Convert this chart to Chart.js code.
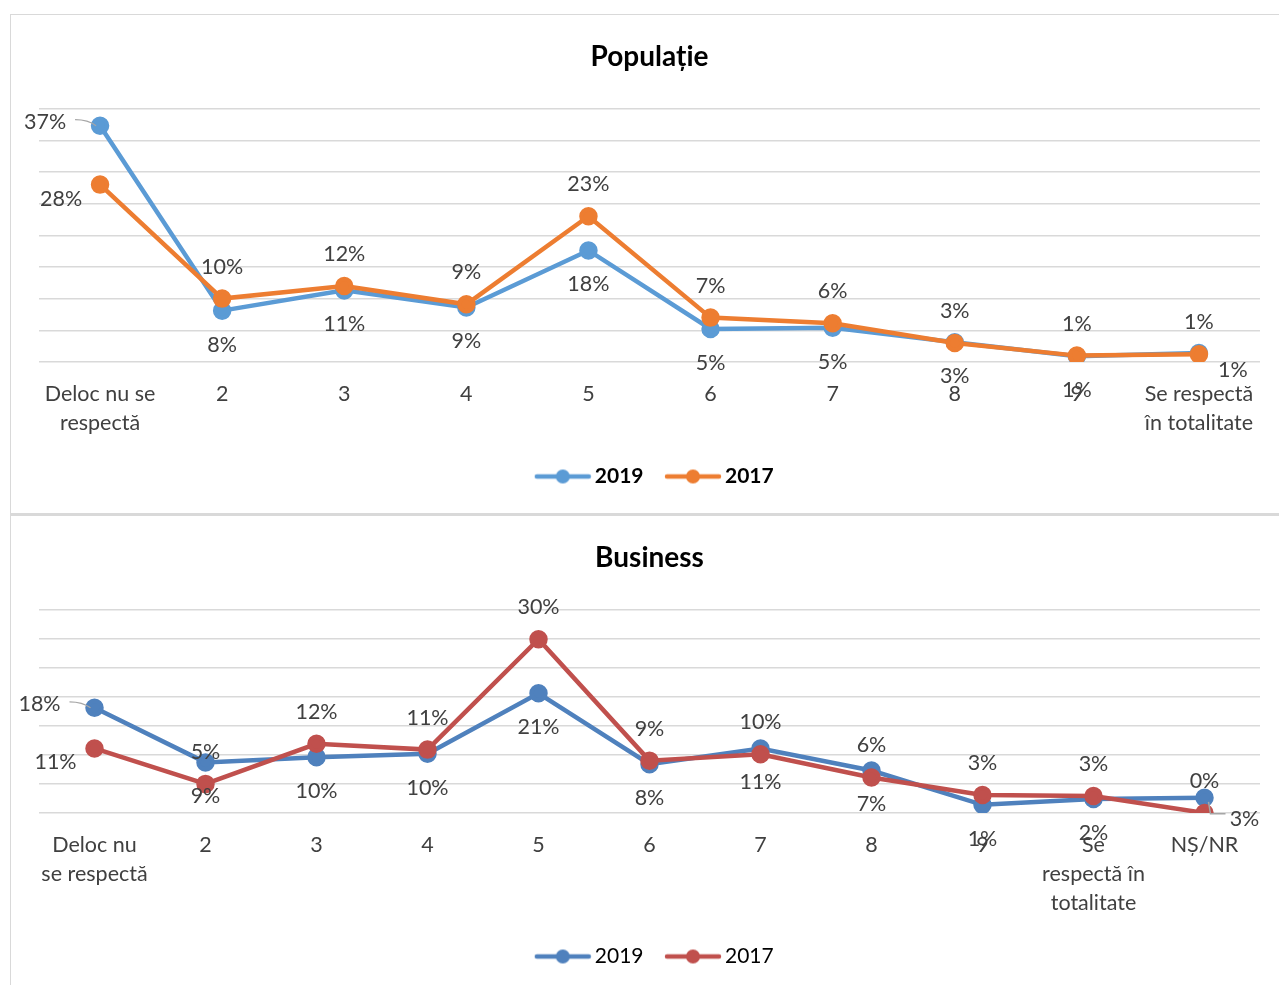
<!DOCTYPE html>
<html>
<head>
<meta charset="utf-8">
<script src="https://cdn.jsdelivr.net/npm/chart.js@4"></script>
<style>
  body { margin: 0; background: #fff; overflow: hidden; }
  .box { position: absolute; left: 10px; width: 1290px; background: #fff; border: 1px solid #d9d9d9; border-right: none; }
  #box-pop { top: 14px; height: 498px; border-bottom: 2px solid #d9d9d9; }
  #box-bus { top: 514px; height: 490px; border-top: 2px solid #d9d9d9; }
  canvas { display: block; }
</style>
</head>
<body>
<div class="box" id="box-pop"><canvas id="chart-pop" width="1269" height="498"></canvas></div>
<div class="box" id="box-bus"><canvas id="chart-bus" width="1269" height="477"></canvas></div>
<script>
// Populatie
const popCategories = [["Deloc nu se", "respectă"], "2", "3", "4", "5", "6", "7", "8", "9", ["Se respectă", "în totalitate"]];
const pop2019 = [37.3, 8.1, 11.3, 8.6, 17.6, 5.2, 5.4, 3.1, 0.9, 1.4];
const pop2017 = [28.0, 10.0, 12.0, 9.1, 23.0, 7.0, 6.1, 3.0, 1.0, 1.2];

// Business
const busCategories = [["Deloc nu", "se respectă"], "2", "3", "4", "5", "6", "7", "8", "9", ["Se", "respectă în", "totalitate"], "NȘ/NR"];
const bus2019 = [18.1, 8.7, 9.6, 10.2, 20.6, 8.4, 11.1, 7.3, 1.4, 2.4, 2.6];
const bus2017 = [11.1, 5.0, 11.9, 10.9, 29.9, 9.0, 10.1, 6.1, 3.1, 2.9, 0.0];

const FONT = "Lato";

function legendIcon(color) {
  const c = document.createElement("canvas");
  c.width = 58;
  c.height = 16;
  const g = c.getContext("2d");
  g.strokeStyle = color;
  g.lineWidth = 4.5;
  g.lineCap = "round";
  g.beginPath();
  g.moveTo(3, 8);
  g.lineTo(55, 8);
  g.stroke();
  g.fillStyle = color;
  g.beginPath();
  g.arc(29, 8, 7, 0, Math.PI * 2);
  g.fill();
  return c;
}

// value labels, 2019 below the points and 2017 above, like the original
const pctLabels = {
  id: "pctLabels",
  afterLayout(chart) {
    // legend sits a bit right of centre in the original
    chart.legend.left += 8;
    chart.legend.right += 8;
  },
  afterDatasetsDraw(chart, args, opts) {
    const ctx = chart.ctx;
    ctx.save();
    ctx.font = "21.5px " + FONT;
    ctx.fillStyle = "#404040";
    ctx.textAlign = "center";
    ctx.textBaseline = "middle";
    chart.data.datasets.forEach((ds, di) => {
      const meta = chart.getDatasetMeta(di);
      const last = meta.data.length - 1;
      meta.data.forEach((pt, i) => {
        const txt = Math.round(ds.data[i]) + "%";
        let x = pt.x, y = pt.y;
        const below = ds.labelSide === "below";
        if (i === 0) {
          if (below) {
            x -= 55; y -= 4;
            ctx.strokeStyle = "#a6a6a6";
            ctx.lineWidth = 1.2;
            ctx.beginPath();
            ctx.moveTo(x + 30, y - 2);
            ctx.quadraticCurveTo(pt.x - 12, y - 2, pt.x - 4, pt.y);
            ctx.stroke();
          } else {
            x -= 39; y += 14;
          }
        } else if (i === last && below) {
          x += opts.lastDx; y += opts.lastDy;
          if (opts.lastLeader) {
            ctx.strokeStyle = "#a6a6a6";
            ctx.lineWidth = 1.5;
            ctx.beginPath();
            ctx.moveTo(pt.x + 4, pt.y + 4);
            ctx.lineTo(pt.x + 6, pt.y + 16);
            ctx.lineTo(x - 19, pt.y + 16);
            ctx.stroke();
          }
        } else {
          y += below ? 34 : -32;
        }
        ctx.fillText(txt, x, y);
      });
    });
    ctx.restore();
  }
};

function makeChart(id, title, cats, d2019, d2017, c2019, c2017, yMax, legendBold, lastDx, lastDy, lastLeader) {
  return new Chart(document.getElementById(id), {
    type: "line",
    data: {
      labels: cats,
      datasets: [
        {
          label: "2019",
          data: d2019,
          labelSide: "below",
          order: 1,
          borderColor: c2019,
          backgroundColor: c2019,
          pointBackgroundColor: c2019,
          pointBorderColor: c2019,
          borderWidth: 4.5,
          pointRadius: 7,
          pointHoverRadius: 7,
          tension: 0,
        },
        {
          label: "2017",
          data: d2017,
          labelSide: "above",
          order: 0,
          borderColor: c2017,
          backgroundColor: c2017,
          pointBackgroundColor: c2017,
          pointBorderColor: c2017,
          borderWidth: 4.5,
          pointRadius: 7,
          pointHoverRadius: 7,
          tension: 0,
        },
      ],
    },
    options: {
      responsive: false,
      animation: false,
      layout: { padding: { left: 28, right: 20, top: 0, bottom: 16 } },
      scales: {
        x: {
          offset: true,
          grid: { display: false, drawTicks: false },
          border: { display: false },
          afterFit: (scale) => { scale.height -= 18; },
          ticks: {
            padding: 18,
            color: "#404040",
            maxRotation: 0,
            autoSkip: false,
            font: { family: FONT, size: 21.5, lineHeight: 1.35 },
          },
        },
        y: {
          min: 0,
          max: yMax,
          ticks: { display: false, stepSize: 5 },
          grid: { color: "#d9d9d9", lineWidth: 1.5, drawTicks: false },
          border: { display: false },
        },
      },
      plugins: {
        title: {
          display: true,
          text: title,
          color: "#000",
          font: { family: FONT, size: 28, weight: "bold", lineHeight: 1.2 },
          padding: { top: 25, bottom: 35 },
        },
        legend: {
          position: "bottom",
          labels: {
            usePointStyle: true,
            pointStyleWidth: 43,
            padding: 28,
            color: "#000",
            font: { family: FONT, size: 21, weight: legendBold ? "bold" : "normal" },
            sort: (a, b) => a.datasetIndex - b.datasetIndex,
            generateLabels: (chart) =>
              chart.data.datasets.map((ds, i) => ({
                text: ds.label,
                datasetIndex: i,
                pointStyle: legendIcon(ds.borderColor),
                fillStyle: ds.borderColor,
                strokeStyle: ds.borderColor,
                lineWidth: 0,
                hidden: false,
                fontColor: "#000",
              })),
          },
        },
        tooltip: { enabled: false },
        pctLabels: { lastDx: lastDx, lastDy: lastDy, lastLeader: lastLeader },
      },
    },
    plugins: [pctLabels],
  });
}

makeChart("chart-pop", "Populație", popCategories, pop2019, pop2017, "#5B9BD5", "#ED7D31", 40, true, 34, 17, false);
makeChart("chart-bus", "Business", busCategories, bus2019, bus2017, "#4F81BD", "#C0504D", 35, false, 40, 21, true);
</script>
</body>
</html>
